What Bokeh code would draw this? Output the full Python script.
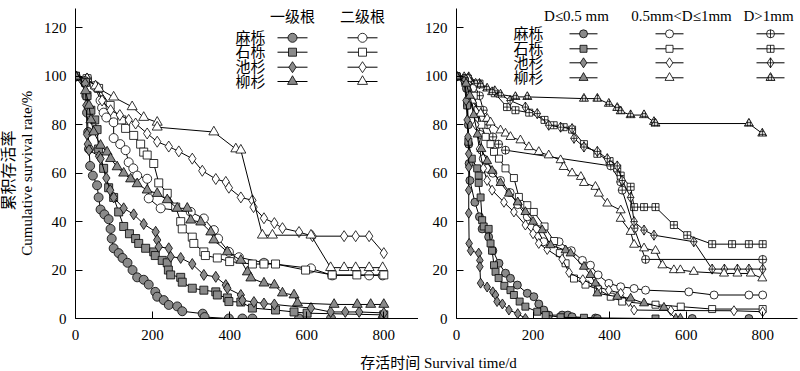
import math
from bokeh.plotting import figure
from bokeh.layouts import row, column
from bokeh.models import Label, Range1d
from bokeh.embed import file_html
from bokeh.resources import INLINE

# ---------------- texts ----------------
species = ["麻栎", "石栎", "池杉", "柳杉"]
left_headers = ["一级根", "二级根"]
right_headers = ["D≤0.5 mm", "0.5mm<D≤1mm", "D>1mm"]
x_ticks = [0, 200, 400, 600, 800]
y_ticks = [0, 20, 40, 60, 80, 100, 120]
y_label_cn = "累积存活率"
y_label_en = "Cumulative survival rate/%"
x_label = "存活时间 Survival time/d"

# ---------------- left panel data: (time d, survival %) ----------------
mali_1st = [(0,100),(25,98),(28,92),(30,85),(33,77),(35,70),(38,63),(45,59),(56,55),(60,50),(65,45),(75,43),(86,41),(91,37),(94,33),(99,29),(112,27),(122,25),(135,23),(148,20),(160,17),(177,16),(190,14),(207,11),(212,9),(229,7.6),(242,5.6),(264,5),(277,3),(330,2),(335,0.6),(398,0),(433,0),(459,0),(580,0),(663,0),(797,0)]
shili_1st = [(0,100),(26,97.5),(30,92),(40,86),(50,82),(56,78),(60,70),(73,62),(86,54),(99,50),(112,44),(125,38),(140,35),(156,33),(164,31),(182,29),(203,27.5),(207,26),(225,24),(238,23),(241,20),(247,18),(273,17),(277,15),(303,12.5),(333,11.7),(364,11),(368,9.7),(394,8.5),(398,7),(429,6.8),(459,4.3),(519,3.5),(567,2.7),(601,2.2),(800,1.5)]
chishan_1st = [(0,100),(25,97),(28,88),(30,76),(32,72),(35,69.5),(61,67),(65,66),(80,58),(90,53),(99,50),(125,45.5),(151,43),(177,39),(208,35.8),(212,32.4),(216,29.6),(242,29),(247,25.5),(273,25),(303,22.5),(333,18),(364,17.2),(390,13.8),(394,12.5),(429,9.7),(433,7.5),(463,6.8),(489,6.2),(516,5.8),(611,4.3),(662,2.7),(700,2.7),(736,2.7),(800,2.3)]
liushan_1st = [(0,100),(26,94),(35,88),(40,82),(47,77),(65,71.5),(82,68.7),(91,66),(108,62.6),(125,60),(143,57.6),(160,55.6),(186,53),(212,51.6),(238,49),(264,45.5),(290,45.5),(299,40.6),(325,39.8),(351,35.7),(359,32.4),(394,27.5),(429,24),(446,19.2),(455,16.7),(489,14.6),(516,13.8),(537,10.5),(567,9.7),(576,6.4),(671,5.8),(731,5.8),(766,5.8),(800,5.8)]
mali_2nd = [(0,100),(30,99),(50,96),(65,90),(69,87),(73,85),(80,83),(99,81),(99,74.5),(116,72),(130,69.5),(138,64.5),(150,62),(160,59),(186,57.7),(190,49.6),(221,45.5),(299,44),(333,41.3),(359,36.5),(370,33),(398,27.5),(424,25.3),(489,23),(611,20.7),(666,17.8),(762,17.8),(797,17.8)]
shili_2nd = [(0,100),(30,99),(60,95),(90,88),(120,82),(130,78.5),(151,75.6),(169,72),(177,68.7),(186,67.5),(203,64),(216,56),(238,51.7),(260,46),(273,40),(277,37),(303,33.6),(307,31),(333,27.5),(337,26),(368,25),(400,23.5),(459,22.5),(489,22.5),(519,22.5),(597,20),(666,18),(730,18),(800,18)]
chishan_2nd = [(0,100),(30,99),(56,95.5),(69,90),(91,86),(115,84),(138,82),(156,80.5),(186,76.4),(212,73),(242,71),(268,69),(303,66),(329,61),(364,57.6),(390,56.4),(398,54),(429,50),(459,48.8),(462,46),(489,41.4),(516,39.4),(537,37.3),(580,35.7),(615,34),(697,34),(727,34),(762,34),(800,27)]
liushan_2nd = [(0,100),(30,99),(52,96),(60,95),(99,91.4),(147,87.4),(177,83),(212,81),(212,79),(359,77),(416,70),(429,69.5),(485,34.4),(511,34.4),(611,34.4),(662,21),(697,21),(727,21),(762,21),(797,21)]

# ---------------- right panel data: (time d, survival %) ----------------
mali_d05 = [(0,100),(20,99),(26,95),(29,88),(31,80),(32,72),(33,64),(35,57),(48,48),(60,42),(67,37),(84,33.7),(95,28),(111,22.8),(128,18.7),(141,16.6),(159,13.8),(185,10.4),(202,9),(215,6),(228,3.5),(241,1.4),(276,1.4),(291,1.4),(302,0.7),(363,0.2),(368,0),(616,0),(764,0)]
shili_d05 = [(0,100),(22,98),(28,88),(31,73),(40,66),(54,62),(58,59),(58,56),(63,50),(67,40.6),(71,38),(84,37),(89,31),(93,28),(98,22),(102,19.3),(110,16.7),(125,13.5),(141,11.7),(150,9.7),(165,7),(180,4.9),(211,2.8),(233,1.4),(272,0.5),(333,0.3),(520,0)]
chishan_d05 = [(0,100),(20,98),(25,90),(28,82),(30,75),(32,68),(32,62.5),(32,53),(32,43.5),(33,31),(37,28),(58,27),(61,24),(61,21.4),(63,14.6),(80,13),(95,11),(102,9.7),(106,7),(120,6),(137,3.5),(160,2),(180,0)]
liushan_d05 = [(0,100),(25,97),(35,92),(45,84),(55,76),(65,70),(80,65),(93,61),(115,56),(137,51.6),(160,48),(180,44),(200,40),(224,36.5),(246,30.3),(285,28.2),(298,26.9),(333,21.4),(350,18),(363,14.5),(368,10.4),(420,9),(455,8.3),(490,6.3),(542,4.5),(573,0),(585,0)]
mali_d1 = [(0,100),(30,99),(42,95),(55,86),(62,76),(70,66),(80,62),(95,60),(115,57),(140,52),(160,47),(185,42),(210,37),(228,31.7),(268,31.7),(300,28),(329,24),(350,22),(370,18),(398,14.5),(429,13.1),(464,12.4),(494,11.7),(607,11),(673,9.7),(764,9.7),(800,9.7)]
shili_d1 = [(0,100),(30,98),(45,92),(55,86),(65,80),(76,75),(89,72),(98,68.8),(111,66),(128,62),(150,58),(163,50.2),(185,46.8),(202,44),(230,38),(255,32),(270,27),(285,22.8),(307,16.5),(337,14),(370,12),(403,9),(433,7),(520,5.7),(586,4.9),(668,3.9),(800,3.9)]
chishan_d1 = [(0,100),(30,97),(40,90),(50,80),(60,70),(70,62),(80,57),(93,53),(124,48),(150,44),(180,38.6),(200,35),(215,31),(237,28.5),(276,24.5),(294,19),(330,16),(370,13),(398,11.7),(429,10.4),(450,7),(464,3.5),(560,3.3),(725,3.2),(800,2.8)]
liushan_d1 = [(0,100),(30,99),(41,90),(63,84.6),(80,82.5),(89,81),(115,77.7),(128,76.4),(141,75),(167,73.6),(189,70.8),(215,68.8),(241,67.4),(272,65.4),(280,62.6),(302,60),(325,58.5),(333,56),(363,54.4),(372,51.6),(394,47.5),(429,44.7),(429,41.2),(455,35.8),(464,30.5),(490,29),(520,28),(538,22),(568,20),(585,20),(620,19.3),(699,18.6),(734,18.6),(769,18.6),(799,16.6)]
mali_dgt1 = [(0,100),(25,99),(45,97),(60,92),(70,86),(80,80),(95,75),(110,72),(128,69.5),(403,63),(429,56.4),(433,53),(464,37.3),(494,24.4),(800,24.4)]
shili_dgt1 = [(0,100),(30,99),(60,97),(100,93),(132,87.3),(154,86),(190,85),(230,82),(254,79.8),(280,79),(302,78),(333,72),(368,68),(400,65),(420,62),(429,59),(455,54.4),(464,46),(490,46),(520,46),(568,38.6),(603,34.4),(668,30.7),(720,30.7),(764,30.7),(800,30.7)]
chishan_dgt1 = [(0,100),(30,99),(60,97),(100,94),(140,90),(180,87.3),(211,84.6),(241,79.8),(272,79),(302,78.4),(307,74.4),(333,70.8),(368,69),(394,66),(420,63),(433,57),(455,50),(464,40),(490,36.5),(516,34.4),(620,31.7),(668,20.4),(700,20.4),(734,20.4),(764,20.4),(800,20.4)]
liushan_dgt1 = [(0,100),(20,99.7),(32,99.7),(50,97),(63,96.3),(80,95),(93,93.5),(115,92.5),(154,91.5),(185,91.5),(333,90.8),(368,90.8),(398,88.7),(420,87),(429,85.6),(455,84),(490,84),(516,81.2),(520,80.5),(764,80.5),(799,76.4)]

# ---------------- style / layout ----------------
FONT = "Liberation Serif, Noto Sans CJK SC"
GRAY = "#8a8a8a"
Y_MAX = 128
FRAME_TOP, FRAME_BOT = 8, 318
FIG_H = 350
P0_W = 34
LEFT_X0, LEFT_X1 = 75, 418
RIGHT_X0, RIGHT_X1 = 456, 797
LEFT_W = LEFT_X1 - P0_W
RIGHT_W = 799 - LEFT_X1
XL_MAX = 890
XR_MAX = 891


def lx(px):
    return (px - LEFT_X0) * XL_MAX / (LEFT_X1 - LEFT_X0)


def rx(px):
    return (px - RIGHT_X0) * XR_MAX / (RIGHT_X1 - RIGHT_X0)


def py(px):
    return (FRAME_BOT - px) * Y_MAX / (FRAME_BOT - FRAME_TOP)


def make_fig(width, xmax, mbl, mbr):
    p = figure(width=width, height=FIG_H, x_range=Range1d(0, xmax), y_range=Range1d(0, Y_MAX),
               output_backend="svg", toolbar_location=None, title=None,
               min_border_left=mbl, min_border_right=mbr, min_border_top=FRAME_TOP,
               min_border_bottom=FIG_H - FRAME_BOT)
    p.grid.visible = False
    p.outline_line_color = None
    for ax in (p.xaxis[0], p.yaxis[0]):
        ax.axis_line_color = "black"
        ax.axis_line_width = 1
        ax.major_tick_in = 7
        ax.major_tick_out = 0
        ax.minor_tick_in = 0
        ax.minor_tick_out = 0
        ax.major_tick_line_color = "black"
        ax.major_label_text_font = FONT
        ax.major_label_text_font_size = "15px"
        ax.major_label_text_color = "black"
    p.xaxis.ticker = x_ticks
    p.yaxis.ticker = y_ticks
    p.xaxis.major_label_standoff = 11
    p.yaxis.major_label_standoff = 9
    return p


def draw(p, data, marker, fill, size, hatch=None):
    t = [a for a, b in data]
    s = [b for a, b in data]
    p.line(t, s, line_color="black", line_width=1)
    kw = {}
    if hatch:
        kw = dict(hatch_pattern=hatch, hatch_color="black", hatch_scale=3, hatch_weight=0.6)
    p.scatter(t, s, marker=marker, size=size, fill_color=fill, line_color="black", line_width=0.8, **kw)


def label(p, x, y, text, align="center", size="15px", angle=0):
    p.add_layout(Label(x=x, y=y, text=text, text_font=FONT, text_font_size=size,
                       text_color="black", text_align=align, text_baseline="middle", angle=angle))


def blank(width, height):
    p = figure(width=width, height=height, x_range=Range1d(0, width), y_range=Range1d(0, height),
               output_backend="svg", toolbar_location=None, title=None,
               x_axis_location=None, y_axis_location=None, min_border=0)
    p.grid.visible = False
    p.outline_line_color = None
    return p

# ---------------- y axis title strip ----------------
p0 = blank(P0_W, FIG_H)
label(p0, 8, FIG_H - 183, y_label_cn, size="16px", angle=math.pi / 2)
label(p0, 26, FIG_H - 186, y_label_en, angle=math.pi / 2)

# ---------------- left panel ----------------
p1 = make_fig(LEFT_W, XL_MAX, LEFT_X0 - P0_W, 0)
L_MARK = [("circle", 9), ("square", 8), ("diamond", 11), ("triangle", 10)]
left_first = [mali_1st, shili_1st, chishan_1st, liushan_1st]
left_second = [mali_2nd, shili_2nd, chishan_2nd, liushan_2nd]
for data, (m, sz) in zip(left_second, L_MARK):
    draw(p1, data, m, "white", sz)
for data, (m, sz) in zip(left_first, L_MARK):
    draw(p1, data, m, GRAY, sz)

rows_l = [37.3, 51.7, 66.7, 81]
cols_l = [(292, GRAY), (362, "white")]
for j, h in enumerate(left_headers):
    label(p1, lx(cols_l[j][0]), py(16), h)
for i, sp in enumerate(species):
    label(p1, lx(265), py(rows_l[i]), sp, align="right")
    m, sz = L_MARK[i]
    for cx, fill in cols_l:
        p1.line([lx(cx - 15), lx(cx + 15)], [py(rows_l[i])] * 2, line_color="black", line_width=1)
        p1.scatter([lx(cx)], [py(rows_l[i])], marker=m, size=sz, fill_color=fill,
                   line_color="black", line_width=0.8)

# ---------------- right panel ----------------
p2 = make_fig(RIGHT_W, XR_MAX, RIGHT_X0 - LEFT_X1, RIGHT_W - (RIGHT_X1 - LEFT_X1))
R_MARK = [("circle", 8), ("square", 7), ("diamond", 10), ("triangle", 9)]
R_CROSS = [("circle_cross", 8, None), ("square_cross", 7, None), ("diamond_cross", 10, None), ("triangle", 9, "+")]
right_d05 = [mali_d05, shili_d05, chishan_d05, liushan_d05]
right_d1 = [mali_d1, shili_d1, chishan_d1, liushan_d1]
right_dgt1 = [mali_dgt1, shili_dgt1, chishan_dgt1, liushan_dgt1]
for data, (m, sz, hp) in zip(right_dgt1, R_CROSS):
    draw(p2, data, m, "#d0d0d0" if hp else "white", sz, hatch=hp)
for data, (m, sz) in zip(right_d1, R_MARK):
    draw(p2, data, m, "white", sz)
for data, (m, sz) in zip(right_d05, R_MARK):
    draw(p2, data, m, GRAY, sz)

rows_r = [33.3, 48.3, 62.3, 77.3]
cols_r = [583, 669, 770]
head_r = [576, 681, 768]
for j, h in enumerate(right_headers):
    label(p2, rx(head_r[j]), py(15), h)
for i, sp in enumerate(species):
    label(p2, rx(543), py(rows_r[i]), sp, align="right")
    yy = py(rows_r[i])
    specs = [(R_MARK[i][0], R_MARK[i][1], GRAY, None),
             (R_MARK[i][0], R_MARK[i][1], "white", None),
             (R_CROSS[i][0], R_CROSS[i][1], "#d0d0d0" if R_CROSS[i][2] else "white", R_CROSS[i][2])]
    for cx, (m, sz, fill, hp) in zip(cols_r, specs):
        p2.line([rx(cx - 14), rx(cx + 14)], [yy, yy], line_color="black", line_width=1)
        kw = dict(hatch_pattern=hp, hatch_color="black", hatch_scale=3, hatch_weight=0.6) if hp else {}
        p2.scatter([rx(cx)], [yy], marker=m, size=sz, fill_color=fill, line_color="black",
                   line_width=0.8, **kw)

# ---------------- shared x axis title ----------------
p3 = blank(799, 20)
label(p3, 438, 20 - (362 - FIG_H), x_label)

layout = column(row(p0, p1, p2), p3)
open("out.html", "w").write(file_html(layout, INLINE))
